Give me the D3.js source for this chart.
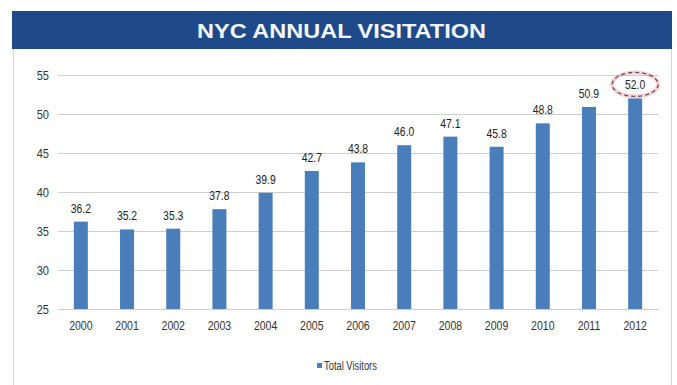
<!DOCTYPE html>
<html>
<head>
<meta charset="utf-8">
<script src="https://cdn.jsdelivr.net/npm/d3@7"></script>
<style>
  html, body { margin: 0; padding: 0; background: #ffffff; }
  svg { display: block; }
  text { font-family: "Liberation Sans", Arial, sans-serif; }
</style>
</head>
<body>
<svg id="chart" width="677" height="385"></svg>
<script>
// NYC annual visitation, millions of visitors per year
const years = ["2000","2001","2002","2003","2004","2005","2006","2007","2008","2009","2010","2011","2012"];
const visitors = [36.2, 35.2, 35.3, 37.8, 39.9, 42.7, 43.8, 46.0, 47.1, 45.8, 48.8, 50.9, 52.0];
const yTicks = [25, 30, 35, 40, 45, 50, 55];
const seriesName = "Total Visitors";
const titleText = "NYC ANNUAL VISITATION";
const highlightYear = "2012";

const svg = d3.select("#chart");

// squeeze text horizontally to get a condensed face
function condense(sel, factor) {
  sel.each(function () {
    const w = this.getComputedTextLength();
    d3.select(this).attr("textLength", w * factor).attr("lengthAdjust", "spacingAndGlyphs");
  });
}

// outer frame of the chart panel
svg.append("rect")
  .attr("x", 13.5).attr("y", 48.5)
  .attr("width", 658).attr("height", 345)
  .attr("fill", "#ffffff")
  .attr("stroke", "#d4d4d4").attr("stroke-width", 1);

// title banner
svg.append("rect")
  .attr("x", 12).attr("y", 11)
  .attr("width", 660).attr("height", 38)
  .attr("fill", "#1f4a8a");
svg.append("text")
  .attr("x", 341.5).attr("y", 38)
  .attr("text-anchor", "middle")
  .attr("fill", "#f4f8ff")
  .attr("font-size", 21).attr("font-weight", "bold")
  .attr("textLength", 289).attr("lengthAdjust", "spacingAndGlyphs")
  .text(titleText);

const x = d3.scaleBand()
  .domain(years)
  .range([58, 658])
  .paddingInner(0.697)
  .paddingOuter(0.343);

const y = d3.scaleLinear()
  .domain([25, 55])
  .range([309, 75]);

// horizontal gridlines and y labels
const yAxis = d3.axisLeft(y).tickValues(yTicks).tickSize(-(658 - 58)).tickPadding(9).tickFormat(d3.format("d"));
const gy = svg.append("g").attr("transform", "translate(58,0)").call(yAxis);
gy.select(".domain").remove();
gy.selectAll(".tick line").attr("stroke", "#cfcfcf").attr("stroke-width", 1);
gy.selectAll(".tick text").attr("fill", "#333").attr("font-size", 13.5)
  .attr("font-family", "'Liberation Sans', Arial, sans-serif")
  .call(condense, 0.82);

// bars
svg.append("g").selectAll("rect")
  .data(years.map((yr, i) => ({ yr, v: visitors[i] })))
  .join("rect")
  .attr("x", d => x(d.yr))
  .attr("width", x.bandwidth())
  .attr("y", d => y(d.v))
  .attr("height", d => y(25) - y(d.v))
  .attr("fill", "#4a7ebb");

// x axis
const xAxis = d3.axisBottom(x).tickSize(0).tickPadding(11);
const gx = svg.append("g").attr("transform", `translate(0,${y(25)})`).call(xAxis);
gx.select(".domain").attr("stroke", "#cfcfcf");
gx.selectAll(".tick text").attr("fill", "#333").attr("font-size", 13.5)
  .attr("font-family", "'Liberation Sans', Arial, sans-serif")
  .call(condense, 0.78);

// value labels
svg.append("g").selectAll("text")
  .data(years.map((yr, i) => ({ yr, v: visitors[i] })))
  .join("text")
  .attr("x", d => x(d.yr) + x.bandwidth() / 2)
  .attr("y", d => y(d.v) - 9)
  .attr("text-anchor", "middle")
  .attr("fill", "#222")
  .attr("font-size", 13)
  .text(d => d3.format(".1f")(d.v))
  .call(condense, 0.8);

// dashed highlight around the latest value
const hv = visitors[years.indexOf(highlightYear)];
const ex = x(highlightYear) + x.bandwidth() / 2, ey = y(hv) - 14;
svg.append("ellipse")
  .attr("cx", ex).attr("cy", ey)
  .attr("rx", 23).attr("ry", 12)
  .attr("fill", "none")
  .attr("stroke", "#e07080").attr("stroke-opacity", 0.3)
  .attr("stroke-width", 4);
svg.append("ellipse")
  .attr("cx", ex).attr("cy", ey)
  .attr("rx", 23).attr("ry", 12)
  .attr("fill", "none")
  .attr("stroke", "#6a5058")
  .attr("stroke-width", 1.3)
  .attr("stroke-dasharray", "4,3");

// legend
const lg = svg.append("g").attr("transform", "translate(317,366)");
lg.append("rect").attr("x", 0).attr("y", -3).attr("width", 5).attr("height", 5).attr("fill", "#4a7ebb");
lg.append("text").attr("x", 7).attr("y", 4).attr("fill", "#333").attr("font-size", 12)
  .text(seriesName)
  .call(condense, 0.78);
</script>
</body>
</html>
